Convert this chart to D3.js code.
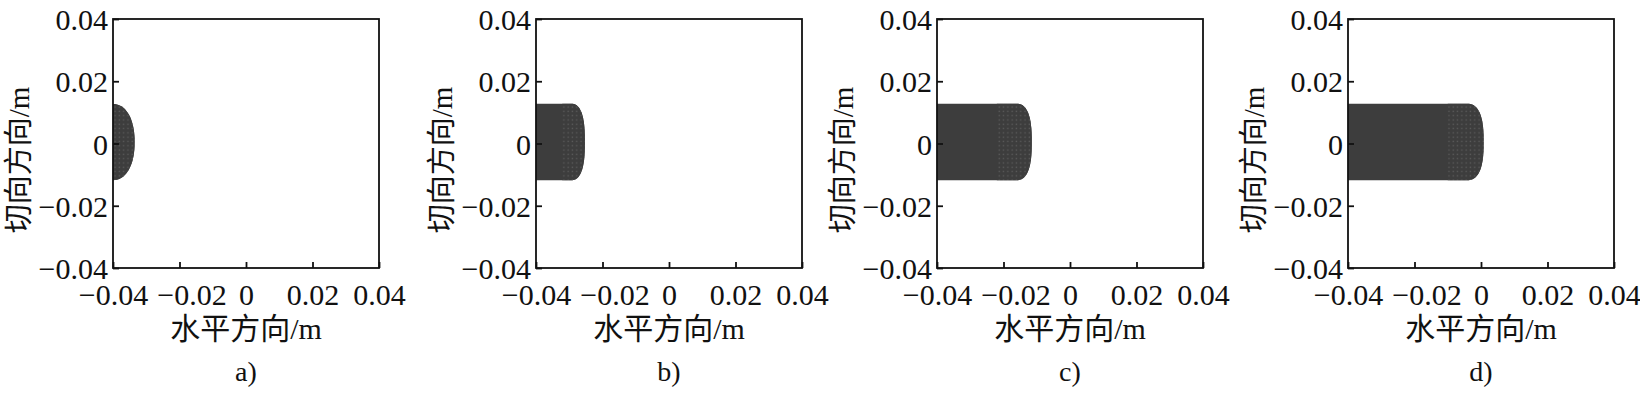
<!DOCTYPE html>
<html>
<head>
<meta charset="utf-8">
<script src="https://cdn.jsdelivr.net/npm/d3@7"></script>
<style>
  body { margin: 0; background: #fff; }
  text { font-family: "Liberation Serif", "Noto Sans CJK SC", serif; fill: #111; }
</style>
</head>
<body>
<div class="container"></div>
<script>
// data
var panelNames = ["a)", "b)", "c)", "d)"];
var xTicks = [-0.04, -0.02, 0, 0.02, 0.04];
var yTicks = [-0.04, -0.02, 0, 0.02, 0.04];
var frontX = [-0.0335, -0.0253, -0.0115, 0.0008];   // tip of the filled zone
var capLength = [0.0066, 0.0043, 0.0048, 0.0052];   // rounded end
var textureLength = [0.0066, 0.0068, 0.0105, 0.0108];
var zoneTop = [0.0127, 0.0128, 0.0128, 0.0128];
var zoneBottom = [-0.0118, -0.0118, -0.0118, -0.0118];

var width = 1640, height = 394;
var plotW = 266, plotH = 249, plotTop = 19;
var panelLeft = [113, 536, 937, 1348];

var svg = d3.select(".container")
    .append("svg")
    .attr("width", width)
    .attr("height", height);

var defs = svg.append("defs");
var pat = defs.append("pattern")
    .attr("id", "dots")
    .attr("patternUnits", "userSpaceOnUse")
    .attr("width", 4.3)
    .attr("height", 4.3);
pat.append("rect").attr("width", 4.3).attr("height", 4.3).attr("fill", "#3d3d3d");
pat.append("rect").attr("x", 1.4).attr("y", 1.4).attr("width", 1.3).attr("height", 1.3).attr("fill", "#5c5c5c");

var x = d3.scaleLinear().domain([-0.04, 0.04]).range([0, plotW]);
var y = d3.scaleLinear().domain([-0.04, 0.04]).range([plotH, 0]);

function zonePoints(i) {
    var top = zoneTop[i], bot = zoneBottom[i];
    var yc = (top + bot) / 2, h = (top - bot) / 2;
    var xc = frontX[i] - capLength[i];
    var n = i === 0 ? 2.2 : 2.6;
    var pts = [[-0.04, top]];
    if (xc > -0.04) pts.push([xc, top]);
    d3.range(0, 41).forEach(function (k) {
        var t = Math.PI / 2 - Math.PI * k / 40;
        var c = Math.cos(t), s = Math.sin(t);
        var px = xc + capLength[i] * Math.pow(Math.abs(c), 2 / n);
        var py = yc + h * Math.sign(s) * Math.pow(Math.abs(s), 2 / n);
        pts.push([Math.max(px, -0.04), py]);
    });
    pts.push([-0.04, bot]);
    return pts;
}

var line = d3.line()
    .x(function (d) { return x(d[0]); })
    .y(function (d) { return y(d[1]); });

panelNames.forEach(function (name, i) {
    var g = svg.append("g")
        .attr("transform", "translate(" + panelLeft[i] + "," + plotTop + ")");

    defs.append("clipPath").attr("id", "area" + i)
        .append("rect").attr("width", plotW).attr("height", plotH);
    defs.append("clipPath").attr("id", "zone" + i)
        .append("path").attr("d", line(zonePoints(i)) + "Z");

    var plot = g.append("g").attr("clip-path", "url(#area" + i + ")");
    plot.append("path")
        .attr("d", line(zonePoints(i)) + "Z")
        .attr("fill", "#3d3d3d");
    plot.append("g").attr("clip-path", "url(#zone" + i + ")")
        .append("rect")
        .attr("x", x(frontX[i] - textureLength[i]))
        .attr("y", y(zoneTop[i]) - 2)
        .attr("width", x(frontX[i]) - x(frontX[i] - textureLength[i]) + 2)
        .attr("height", y(zoneBottom[i]) - y(zoneTop[i]) + 4)
        .attr("fill", "url(#dots)");

    // ticks inside the frame
    var xa = g.append("g")
        .attr("transform", "translate(0," + plotH + ")")
        .call(d3.axisBottom(x).tickValues(xTicks).tickSize(-6).tickPadding(0)
            .tickFormat(function (d) { return d === 0 ? "0" : d3.format(".2f")(d).replace("-", "\u2212"); }));
    xa.select(".domain").remove();
    xa.selectAll("line").attr("stroke", "#111").attr("stroke-width", 1.8);
    xa.selectAll("text")
        .attr("y", 37)
        .attr("dy", 0)
        .attr("dx", function (d) { return d === -0.02 ? 12 : 0; })
        .style("font-size", "30px")
        .style("fill", "#111");

    var ya = g.append("g")
        .call(d3.axisLeft(y).tickValues(yTicks).tickSize(-6).tickPadding(0)
            .tickFormat(function (d) { return d === 0 ? "0" : d3.format(".2f")(d).replace("-", "\u2212"); }));
    ya.select(".domain").remove();
    ya.selectAll("line").attr("stroke", "#111").attr("stroke-width", 1.8);
    ya.selectAll("text")
        .attr("x", -5)
        .attr("dy", "0.35em")
        .style("font-size", "30px")
        .style("fill", "#111");

    g.append("rect")
        .attr("width", plotW)
        .attr("height", plotH)
        .attr("fill", "none")
        .attr("stroke", "#111")
        .attr("stroke-width", 1.8);

    g.append("text")
        .attr("x", plotW / 2)
        .attr("y", 320)
        .attr("text-anchor", "middle")
        .style("font-size", "30px")
        .text("水平方向/m");

    g.append("text")
        .attr("transform", "translate(-84," + (160 - plotTop) + ") rotate(-90)")
        .attr("text-anchor", "middle")
        .style("font-size", "29px")
        .text("切向方向/m");

    g.append("text")
        .attr("x", plotW / 2)
        .attr("y", 362)
        .attr("text-anchor", "middle")
        .style("font-size", "28px")
        .text(name);
});
</script>
</body>
</html>
